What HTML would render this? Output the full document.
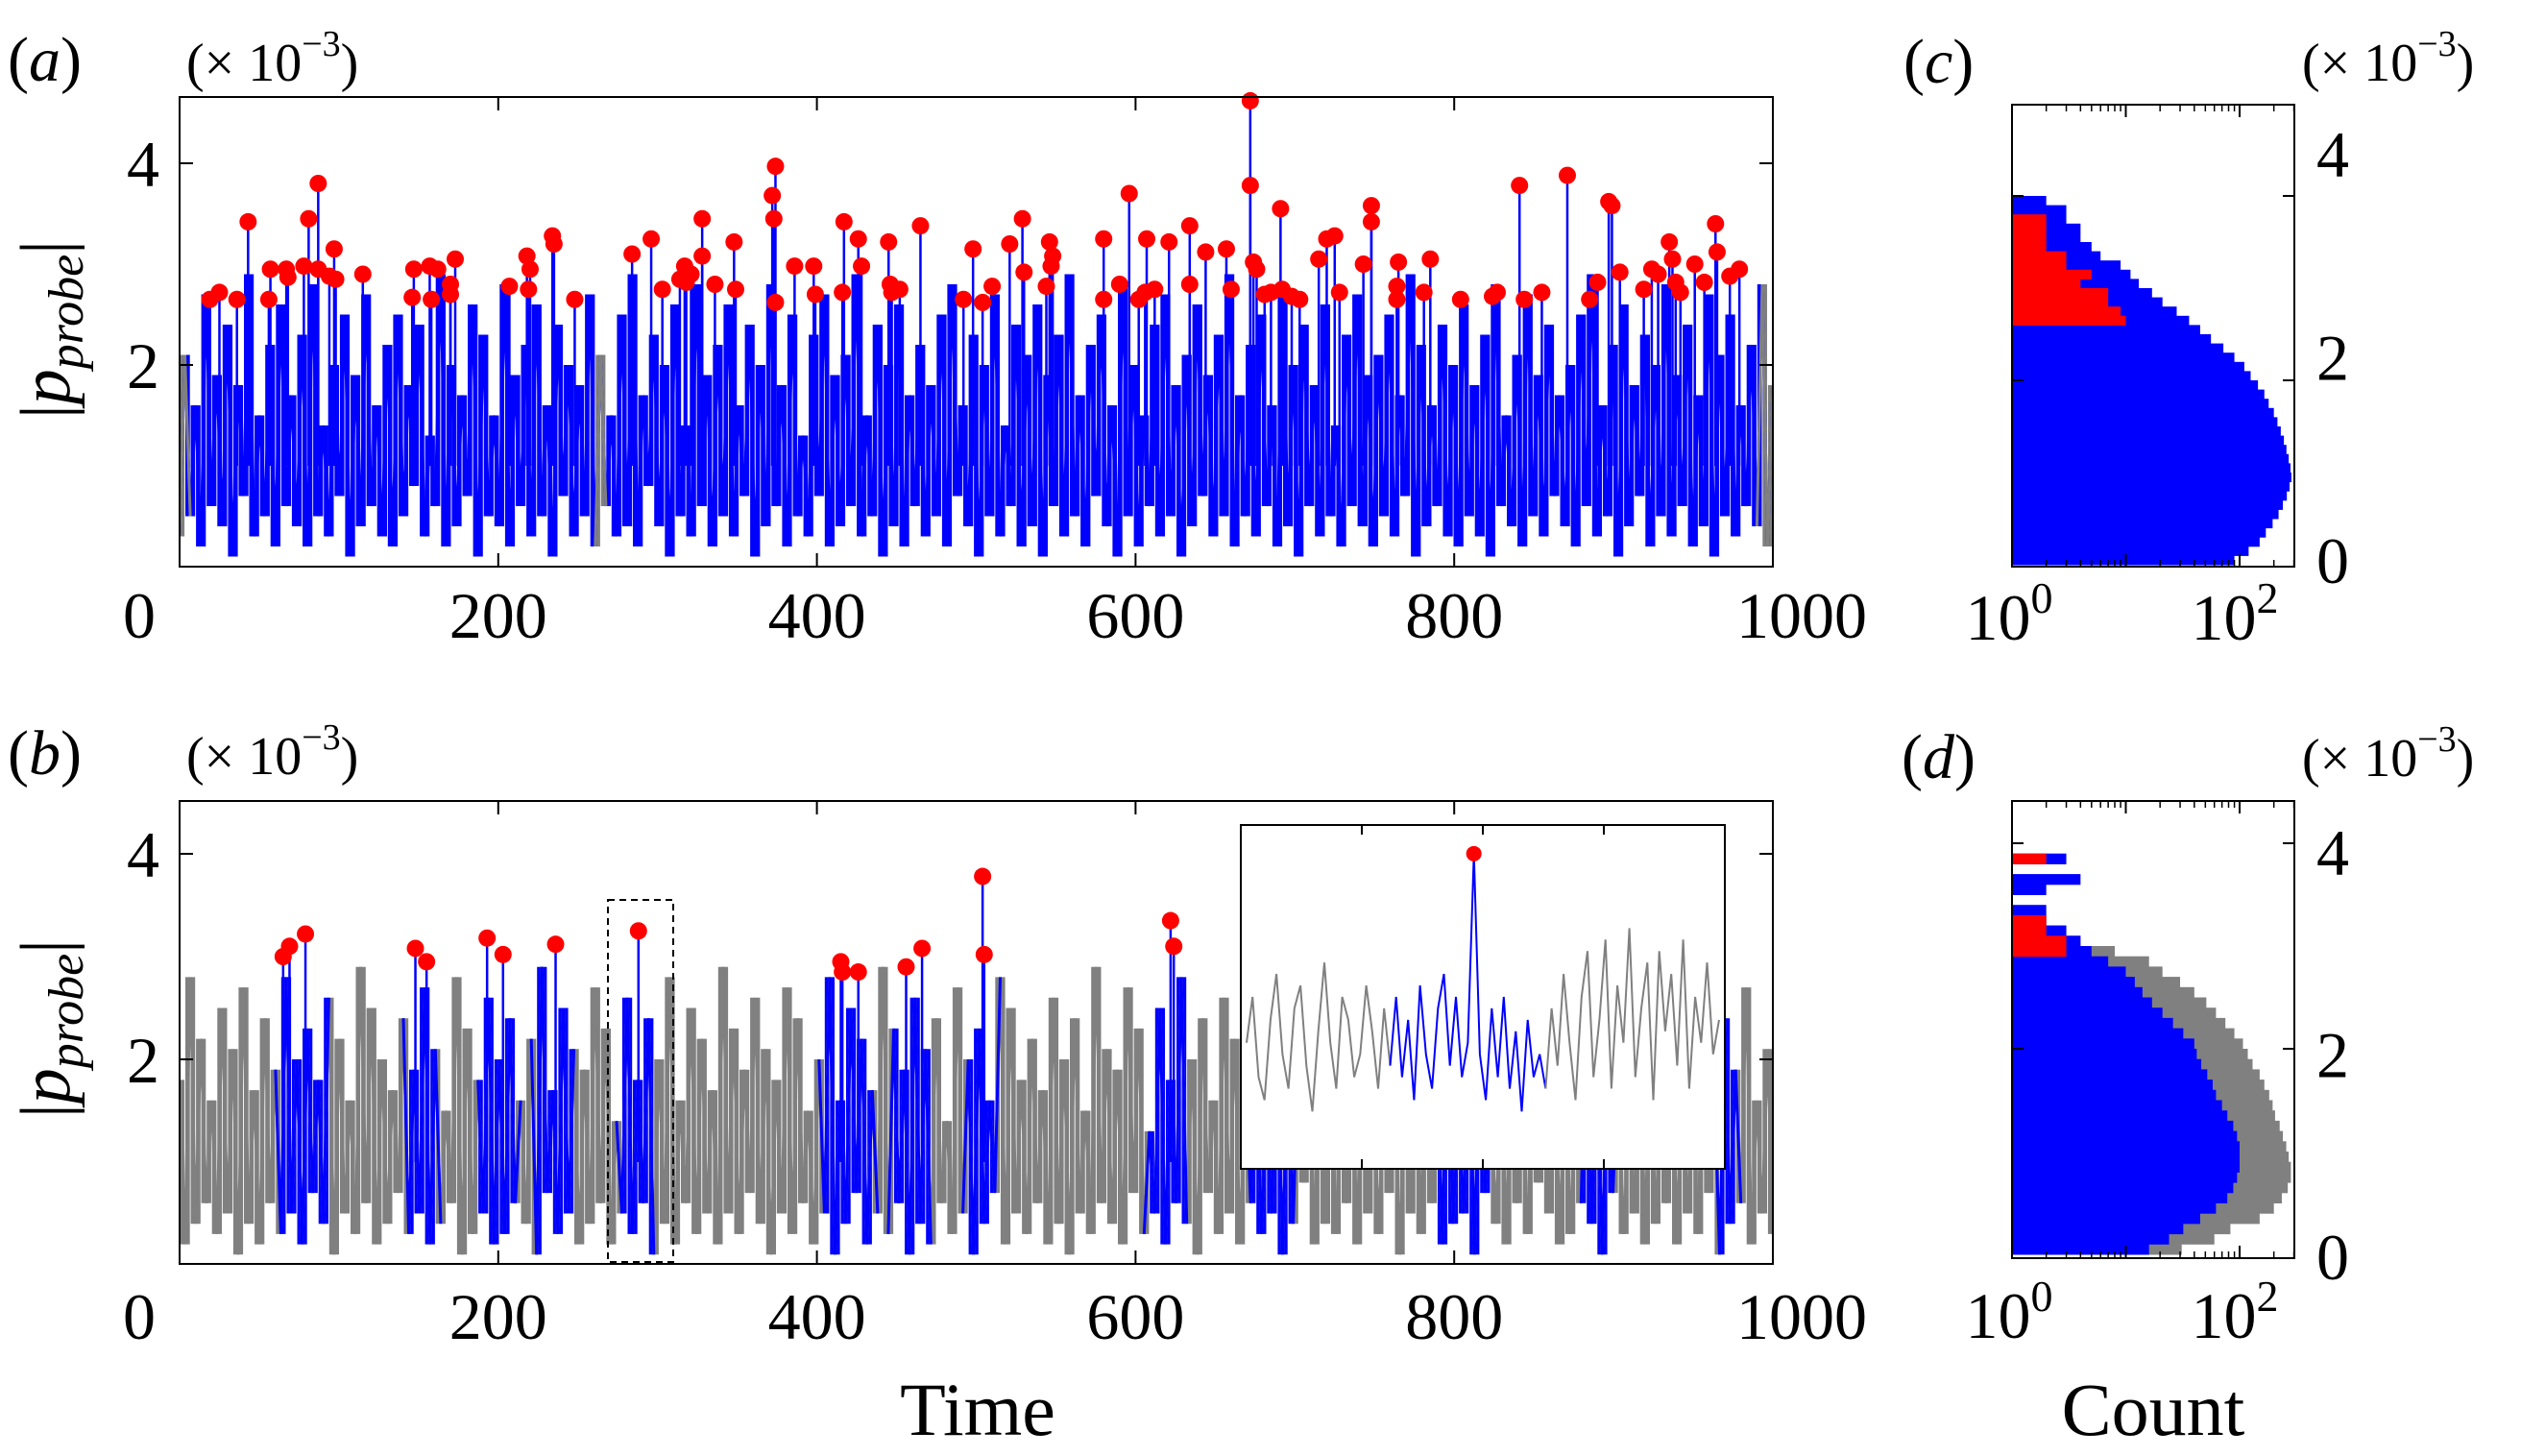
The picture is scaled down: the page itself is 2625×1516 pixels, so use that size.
<!DOCTYPE html>
<html><head><meta charset="utf-8"><style>
html,body{margin:0;padding:0;background:#fff;}
svg{display:block;font-family:"Liberation Serif",serif;}
</style></head><body>
<svg id="fig" xmlns="http://www.w3.org/2000/svg" width="2625" height="1516" viewBox="0 0 2625 1516">
<rect x="0" y="0" width="2625" height="1516" fill="#fff"/>
<g id="layer"></g>
</svg>
<script>
const signal = [0.3,2.1,0.5,1.6,0.2,2.7,0.6,1.9,0.4,2.4,0.1,1.8,0.7,2.9,0.3,1.5,0.5,2.2,0.2,2.6,
0.6,1.7,0.4,2.3,0.2,2.8,0.5,1.4,0.3,2.0,0.7,2.5,0.1,1.9,0.4,2.7,0.6,1.6,0.3,2.2,
0.2,2.5,0.5,1.8,0.8,2.4,0.3,1.3,0.6,2.9,0.2,2.0,0.4,1.7,0.7,2.6,0.1,2.3,0.5,1.5,
0.4,2.8,0.2,1.9,0.6,2.2,0.3,2.6,0.5,1.6,0.1,2.4,0.7,2.0,0.3,1.8,0.5,2.7,0.2,2.1,
0.6,1.5,0.3,2.5,0.4,2.9,0.2,1.7,0.8,2.3,0.4,2.0,0.1,2.6,0.5,1.4,0.3,2.8,0.6,1.9,
0.2,2.2,0.5,2.6,0.3,1.6,0.7,2.4,0.1,2.0,0.4,2.8,0.6,1.8,0.2,2.5,0.5,1.3,0.3,2.3,
0.7,2.7,0.2,1.9,0.4,2.1,0.6,2.9,0.3,1.5,0.5,2.4,0.1,2.0,0.4,2.6,0.2,1.7,0.6,2.2,
0.3,1.8,0.5,2.5,0.2,2.8,0.7,1.6,0.4,2.3,0.1,2.0,0.5,2.7,0.3,1.4,0.6,2.4,0.2,2.1,
0.4,2.6,0.1,1.9,0.6,2.3,0.3,2.9,0.5,1.7,0.2,2.2,0.7,2.5,0.4,1.6,0.1,2.8,0.5,2.0,
0.2,1.5,0.6,2.4,0.3,2.7,0.5,1.8,0.1,2.1,0.4,2.6,0.7,1.9,0.3,2.3,0.5,2.9,0.2,1.7,
0.5,2.2,0.3,2.5,0.6,1.6,0.2,2.8,0.4,2.0,0.1,2.4,0.6,1.8,0.3,2.6,0.5,1.4,0.2,2.3,
0.6,2.7,0.4,1.9,0.2,2.1,0.5,2.5,0.3,1.7,0.7,2.9,0.1,2.2,0.4,1.6,0.6,2.4,0.3,2.0,
0.2,2.6,0.5,1.8,0.3,2.3,0.1,2.8,0.6,1.5,0.4,2.1,0.2,2.7,0.5,1.9,0.3,2.4,0.7,1.7,
0.4,2.0,0.2,2.5,0.6,2.9,0.3,1.6,0.5,2.2,0.1,2.6,0.4,1.8,0.7,2.3,0.2,2.0,0.5,2.8,
0.3,1.9,0.6,2.4,0.2,1.7,0.4,2.7,0.1,2.1,0.5,2.5,0.3,1.6,0.6,2.2,0.4,2.8,0.2,1.8];
const signalB = signal.slice().reverse();
const grayRangesA = [[0,4],[261,266],[993,1000]];
const blueRangesB = [[62,92],[143,162],[188,212],[224,247],[276,296],[404,436],[448,471],[494,512],[608,632],[672,700],[790,822],[880,900],[965,978]];
const peakTimesA = [19,25,36,43,56,57,67,68,78,81,87,87,94,97,98,115,146,147,157,158,162,170,170,173,207,219,218,220,234,235,248,284,296,303,314,317,321,328,328,318,336,348,349,372,374,373,374,386,398,399,417,416,426,428,445,446,447,452,465,492,498,504,510,521,529,530,546,547,548,544,580,580,590,596,602,606,607,612,621,634,634,644,657,660,672,672,674,676,681,685,691,692,698,703,715,720,725,728,743,748,748,764,765,764,781,785,804,824,827,841,844,855,871,885,890,897,899,904,919,924,928,935,937,939,942,951,957,964,965,973,979];
const peakValsA = [2.65,2.72,2.65,3.42,2.65,2.95,2.95,2.87,2.98,3.45,3.8,2.95,2.88,3.15,2.85,2.9,2.67,2.95,2.98,2.65,2.95,2.8,2.7,3.05,2.78,2.75,3.08,2.95,3.28,3.2,2.65,3.1,3.25,2.75,2.85,2.98,2.9,3.45,3.08,2.82,2.8,3.22,2.75,3.68,3.97,3.45,2.62,2.98,2.98,2.7,3.42,2.72,3.25,2.98,3.22,2.8,2.72,2.75,3.38,2.65,3.15,2.62,2.78,3.2,3.45,2.92,3.22,2.98,3.08,2.78,3.25,2.65,2.8,3.7,2.65,2.72,3.25,2.75,3.22,3.38,2.8,3.12,3.15,2.75,4.62,3.78,3.02,2.95,2.7,2.72,3.55,2.75,2.68,2.65,3.05,3.25,3.28,2.72,3.0,3.58,3.42,2.78,3.02,2.65,2.72,3.05,2.65,2.68,2.72,3.78,2.65,2.72,3.88,2.65,2.82,3.62,3.58,2.92,2.75,2.95,2.9,3.22,3.05,2.82,2.72,3.0,2.82,3.4,3.12,2.88,2.95];
const peakTimesB = [65,69,79,148,155,193,203,236,288,415,416,426,456,466,504,505,622,624];
const peakValsB = [3.0,3.1,3.22,3.08,2.95,3.18,3.02,3.12,3.25,2.95,2.85,2.85,2.9,3.08,3.78,3.02,3.35,3.1];
const insetSignal = [1.6,2.0,1.3,1.1,1.8,2.2,1.5,1.2,1.9,2.1,1.4,1.0,1.7,2.3,1.6,1.2,2.0,1.8,1.3,1.5,2.1,1.7,1.2,1.9,
1.4,2.0,1.3,1.8,1.1,2.1,1.5,1.2,1.9,2.2,1.4,2.0,1.3,1.6,3.25,1.5,1.1,1.9,1.3,2.0,1.2,1.7,1.0,1.8,1.3,1.5,1.2,
1.9,1.4,2.2,1.6,1.1,2.0,2.4,1.3,1.8,2.5,1.2,2.1,1.6,2.6,1.3,1.9,2.3,1.1,2.4,1.7,2.2,1.4,2.5,1.2,2.0,1.6,2.3,1.5,1.8];
const insetBlueRange = [24,50];
const insetPeakIndex = [38];
const histBins = [0.0,0.1,0.2,0.3,0.4,0.5,0.6,0.7,0.8,0.9,1.0,1.1,1.2,1.3,1.4,1.5,1.6,1.7,1.8,1.9,2.0,2.1,2.2,2.3,2.4,2.5,2.6,2.7,2.8,2.9,3.0,3.1,3.2,3.3,3.4,3.5,3.6,3.7,3.8,3.9];
const histBlueC = [90,120,150,170,195,220,240,260,275,285,280,270,258,245,230,215,200,180,165,145,125,110,90,72,56,45,36,28,21,17,13,11,9,6,5,4,4,3,3,2];
const histRedC = [0,0,0,0,0,0,0,0,0,0,0,0,0,0,0,0,0,0,0,0,0,0,0,0,0,0,10,9,7,7,4,5,3,3,2,2,2,2,0,0];
const histGrayD = [31,60,83,150,200,235,265,282,282,270,257,240,225,205,195,182,165,150,130,118,107,90,75,62,51,40,30,21,16,8,4,3,2,0,0,0,0,0,0,0];
const histBlueD = [16,24,32,45,62,78,88,95,100,100,100,95,88,78,70,62,58,52,46,42,40,32,26,21,17,14,12,10,7,5,4,3,2,2,1,2,4,1,3,1];
const histRedD = [0,0,0,0,0,0,0,0,0,0,0,0,0,0,0,0,0,0,0,0,0,0,0,0,0,0,0,0,0,3,3,2,2,0,0,0,0,0,2,0];
const timeTicks = [0,200,400,600,800,1000];
const valTicks = [0,2,4];

const NS = "http://www.w3.org/2000/svg";
const layer = document.getElementById('layer');
function mk(tag, attrs, parent){ const e=document.createElementNS(NS,tag); for(const k in attrs) e.setAttribute(k,attrs[k]); (parent||layer).appendChild(e); return e; }

const panels = {
  a:{x0:187,x1:1846,top:101,bot:590,yZero:590,unit:105},
  b:{x0:187,x1:1846,top:834,bot:1316,yZero:1317,unit:107}
};
function xT(p,t){ return p.x0 + t*(p.x1-p.x0)/1000; }
function yV(p,v){ return p.yZero - v*p.unit; }

function polyFor(p, sig, t0, t1){
  const n=sig.length; let pts=[];
  for(let i=0;i<n;i++){ const t=i*1000/(n-1); if(t>=t0-1000/(n-1) && t<=t1+1000/(n-1)) pts.push(xT(p,Math.min(Math.max(t,0),1000)).toFixed(1)+','+yV(p,sig[i]).toFixed(1)); }
  return pts.join(' ');
}
function inRanges(t, ranges){ return ranges.some(r=>t>=r[0] && t<=r[1]); }
function bandFor(p, sig, ranges, wantIn, color, parent, name){
  const n=sig.length; const dt=1000/(n-1);
  let d='';
  for(let i=0;i<n-1;i++){
    const tm=(i+0.5)*dt;
    if(inRanges(tm,ranges)!==wantIn) continue;
    const lo=Math.min(sig[i],sig[i+1]), hi=Math.max(sig[i],sig[i+1]);
    const xa=xT(p,i*dt), xb=xT(p,(i+1)*dt);
    const w=(xb-xa)*0.85;
    const xm=(xa+xb)/2;
    d += 'M'+(xm-w/2).toFixed(1)+','+yV(p,hi).toFixed(1)+'h'+w.toFixed(1)+'V'+yV(p,lo).toFixed(1)+'h'+(-w).toFixed(1)+'Z';
  }
  const e = mk('path',{d:d,fill:color},parent);
  
  
}

function timePanel(key, sig, baseColor, overColor, ranges, pT, pV, tickBaseY){
  const p = panels[key];
  const g = mk('g',{});
  
  
  const clip = mk('clipPath',{id:'clip'+key},g);
  mk('rect',{x:p.x0,y:p.top,width:p.x1-p.x0,height:p.bot-p.top},clip);
  const data = mk('g',{'clip-path':'url(#clip'+key+')'},g);
  bandFor(p, sig, ranges, false, baseColor, data, 'signal-band-'+key);
  bandFor(p, sig, ranges, true, overColor, data, 'signal-band-segment-'+key);
  const base = mk('polyline',{points:polyFor(p,sig,0,1000),fill:'none',stroke:baseColor,'stroke-width':3},data);
  
  
  ranges.forEach(r=>{
    const pl = mk('polyline',{points:polyFor(p,sig,r[0],r[1]),fill:'none',stroke:overColor,'stroke-width':3},data);
    
    
  });
  pT.forEach((t,i)=>{
    const st = mk('line',{x1:xT(p,t),x2:xT(p,t),y1:yV(p,1.0),y2:yV(p,pV[i]),stroke:'#0000ff','stroke-width':2.5},data);
    
    
  });
  pT.forEach((t,i)=>{
    const c = mk('circle',{cx:xT(p,t),cy:yV(p,pV[i]),r:9,fill:'#ff0000'},g);
    
    
  });
  const fr = mk('rect',{x:p.x0,y:p.top,width:p.x1-p.x0,height:p.bot-p.top,fill:'none',stroke:'#000','stroke-width':2},g);
  
  
  timeTicks.forEach(t=>{
    const x=xT(p,t);
    mk('line',{x1:x,x2:x,y1:p.bot,y2:p.bot-14,stroke:'#000','stroke-width':2},g);
    mk('line',{x1:x,x2:x,y1:p.top,y2:p.top+14,stroke:'#000','stroke-width':2},g);
    const off = t===0?-42:(t===1000?30:0);
    const tl = mk('text',{x:x+off,y:tickBaseY,'font-size':68,'text-anchor':'middle'},g);
    tl.textContent = t;
    
    
  });
  valTicks.forEach(v=>{
    const y=yV(p,v);
    if(v>0){
      mk('line',{x1:p.x0,x2:p.x0+14,y1:y,y2:y,stroke:'#000','stroke-width':2},g);
      mk('line',{x1:p.x1,x2:p.x1-14,y1:y,y2:y,stroke:'#000','stroke-width':2},g);
      const yl = mk('text',{x:166,y:y+24,'font-size':68,'text-anchor':'end'},g);
      yl.textContent = v;
      
      
    }
  });
}

timePanel('a', signal, '#0000ff', '#808080', grayRangesA, peakTimesA, peakValsA, 664);
timePanel('b', signalB, '#808080', '#0000ff', blueRangesB, peakTimesB, peakValsB, 1394);

const db = mk('rect',{x:633,y:937,width:68,height:377,fill:'none',stroke:'#000','stroke-width':2,'stroke-dasharray':'7,5'});



const ins = {x0:1292,x1:1796,top:859,bot:1217,vmin:0.5,vmax:3.5};
const ig = mk('g',{});


mk('rect',{x:ins.x0,y:ins.top,width:ins.x1-ins.x0,height:ins.bot-ins.top,fill:'#fff',stroke:'#000','stroke-width':2},ig);
function ix(i){ return ins.x0 + 6 + i*(ins.x1-ins.x0-12)/(insetSignal.length-1); }
function iy(v){ return ins.bot - (v-ins.vmin)*(ins.bot-ins.top)/(ins.vmax-ins.vmin); }
function ipts(a,b){ let s=[]; for(let i=a;i<=b;i++) s.push(ix(i).toFixed(1)+','+iy(insetSignal[i]).toFixed(1)); return s.join(' '); }
const ig1 = mk('polyline',{points:ipts(0,insetBlueRange[0]),fill:'none',stroke:'#808080','stroke-width':2},ig);


const ig2 = mk('polyline',{points:ipts(insetBlueRange[0],insetBlueRange[1]),fill:'none',stroke:'#0000ff','stroke-width':2},ig);


const ig3 = mk('polyline',{points:ipts(insetBlueRange[1],insetSignal.length-1),fill:'none',stroke:'#808080','stroke-width':2},ig);


insetPeakIndex.forEach(i=>{
  const c = mk('circle',{cx:ix(i),cy:iy(insetSignal[i]),r:8,fill:'#ff0000'},ig);
  
  
});
[0.25,0.5,0.75].forEach(f=>{
  const x=ins.x0+f*(ins.x1-ins.x0);
  mk('line',{x1:x,x2:x,y1:ins.bot,y2:ins.bot-10,stroke:'#000','stroke-width':2},ig);
  mk('line',{x1:x,x2:x,y1:ins.top,y2:ins.top+10,stroke:'#000','stroke-width':2},ig);
});

const hists = {
  c:{x0:2095,x1:2389,top:109,bot:590,yZero:588,unit:96,labZero:583,labUnit:105.75},
  d:{x0:2095,x1:2389,top:834,bot:1310,yZero:1306,unit:107,labZero:1308,labUnit:105.25}
};
function hx(n){ return 2095 + Math.log10(n)*118.5; }
function hy(h,v){ return h.yZero - v*h.unit; }
function drawHist(h, counts, color, name, parent){
  histBins.forEach((b,i)=>{
    const n = counts[i]; if(!n || n<1) return;
    const r = mk('rect',{x:h.x0,y:hy(h,b+0.1),width:Math.max(hx(n)-h.x0,0),height:h.unit*0.1+0.5,fill:color},parent);
    
    
  });
}
function histPanel(key, layers, tickBase){
  const h = hists[key];
  const g = mk('g',{});
  
  
  const clip = mk('clipPath',{id:'hclip'+key},g);
  mk('rect',{x:h.x0,y:h.top,width:h.x1-h.x0,height:h.bot-h.top},clip);
  const d = mk('g',{'clip-path':'url(#hclip'+key+')'},g);
  layers.forEach(L=>drawHist(h,L[0],L[1],L[2],d));
  mk('rect',{x:h.x0,y:h.top,width:h.x1-h.x0,height:h.bot-h.top,fill:'none',stroke:'#000','stroke-width':2},g);
  [2,3,4,5,6,7,8,9,20,30,40,50,60,70,80,90,200,300].forEach(n=>{
    const x=hx(n); if(x>=h.x1) return;
    mk('line',{x1:x,x2:x,y1:h.bot,y2:h.bot-7,stroke:'#000','stroke-width':1.5},g);
    mk('line',{x1:x,x2:x,y1:h.top,y2:h.top+7,stroke:'#000','stroke-width':1.5},g);
  });
  [10,100].forEach(n=>{
    const x=hx(n);
    mk('line',{x1:x,x2:x,y1:h.bot,y2:h.bot-13,stroke:'#000','stroke-width':2},g);
    mk('line',{x1:x,x2:x,y1:h.top,y2:h.top+13,stroke:'#000','stroke-width':2},g);
  });
  [[1,2092],[100,2327]].forEach(([n,cx],k)=>{
    const t = mk('text',{x:cx,y:tickBase,'font-size':68,'text-anchor':'middle'},g);
    
    
    const a = document.createElementNS(NS,'tspan'); a.textContent='10'; t.appendChild(a);
    const s = document.createElementNS(NS,'tspan'); s.setAttribute('dy','-28'); s.setAttribute('font-size','46'); s.textContent = k===0?'0':'2'; t.appendChild(s);
  });
  valTicks.forEach(v=>{
    const y=hy(h,v);
    if(v>0){
      mk('line',{x1:h.x0,x2:h.x0+12,y1:y,y2:y,stroke:'#000','stroke-width':2},g);
      mk('line',{x1:h.x1,x2:h.x1-12,y1:y,y2:y,stroke:'#000','stroke-width':2},g);
    }
    const ly = h.labZero - v*h.labUnit;
    const t = mk('text',{x:2412,y:ly+24,'font-size':68},g);
    t.textContent = v;
    
    
  });
}
histPanel('c', [[histBlueC,'#0000ff','hist-bar-all'],[histRedC,'#ff0000','hist-bar-extreme']], 666);
histPanel('d', [[histGrayD,'#808080','hist-bar-all'],[histBlueD,'#0000ff','hist-bar-event'],[histRedD,'#ff0000','hist-bar-extreme']], 1393);
</script>

<svg style="position:absolute;left:0;top:0" width="2625" height="1516" xmlns="http://www.w3.org/2000/svg">
<g font-family="Liberation Serif, serif" fill="#000">
<text x="8" y="84" font-size="66">(<tspan font-style="italic">a</tspan>)</text>
<text x="194" y="84" font-size="56">(× 10<tspan dy="-26" font-size="38">−3</tspan><tspan dy="26">)</tspan></text>
<text x="8" y="806" font-size="66">(<tspan font-style="italic">b</tspan>)</text>
<text x="194" y="806" font-size="56">(× 10<tspan dy="-26" font-size="38">−3</tspan><tspan dy="26">)</tspan></text>
<text x="1982" y="86" font-size="66">(<tspan font-style="italic">c</tspan>)</text>
<text x="2397" y="84" font-size="56">(× 10<tspan dy="-26" font-size="38">−3</tspan><tspan dy="26">)</tspan></text>
<text x="1980" y="810" font-size="66">(<tspan font-style="italic">d</tspan>)</text>
<text x="2397" y="808" font-size="56">(× 10<tspan dy="-26" font-size="38">−3</tspan><tspan dy="26">)</tspan></text>
<text transform="translate(72,343) rotate(-90)" font-size="74" text-anchor="middle">|<tspan font-style="italic">p</tspan><tspan font-style="italic" font-size="52" dy="14">probe</tspan><tspan dy="-14">|</tspan></text>
<text transform="translate(72,1071) rotate(-90)" font-size="74" text-anchor="middle">|<tspan font-style="italic">p</tspan><tspan font-style="italic" font-size="52" dy="14">probe</tspan><tspan dy="-14">|</tspan></text>
<text x="1018" y="1494" font-size="78" text-anchor="middle">Time</text>
<text x="2242" y="1494" font-size="78" text-anchor="middle">Count</text>
</g>
</svg>
</body></html>
